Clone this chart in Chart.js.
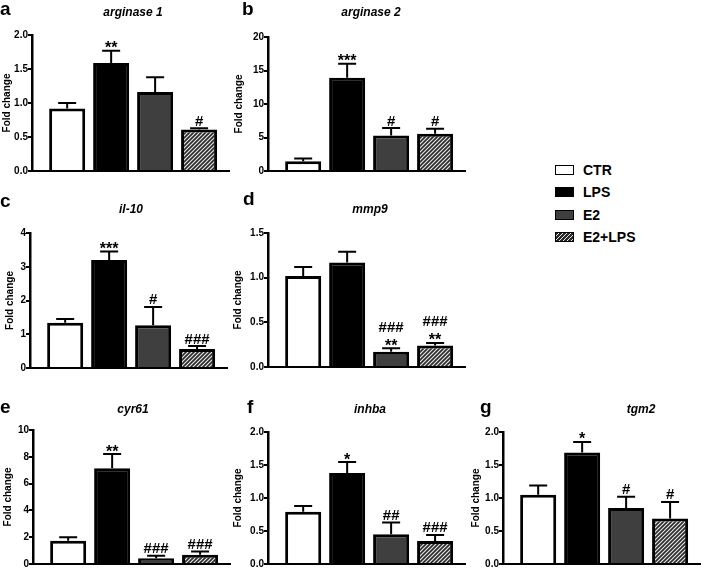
<!DOCTYPE html>
<html><head><meta charset="utf-8">
<script src="https://cdn.jsdelivr.net/npm/chart.js@4.4.1/dist/chart.umd.min.js"></script>
<style>
html,body{margin:0;padding:0;background:#fff;}
body{width:708px;height:570px;position:relative;overflow:hidden;}
canvas{position:absolute;}
.leg{position:absolute;left:555px;height:22px;display:flex;align-items:center;font:bold 14px "Liberation Sans",Arial,sans-serif;color:#000;white-space:nowrap;}
.sw{width:19px;height:10px;box-sizing:border-box;border:1.5px solid #000;margin-right:9px;}
</style></head><body>
<script>
// ---------- data ----------
const categories = ['CTR', 'LPS', 'E2', 'E2+LPS'];
const panelLetters = ['a', 'b', 'c', 'd', 'e', 'f', 'g'];
const genes = ['arginase 1', 'arginase 2', 'il-10', 'mmp9', 'cyr61', 'inhba', 'tgm2'];
const yAxisTitle = 'Fold change';

const arginase1Mean = [0.92, 1.59, 1.16, 0.61];
const arginase1Sem  = [0.08, 0.18, 0.22, 0.02];
const arginase1Sig  = ['', '**', '', '#'];
const arginase1Ticks = ['0.0', '0.5', '1.0', '1.5', '2.0'];

const arginase2Mean = [1.45, 13.9, 5.3, 5.55];
const arginase2Sem  = [0.4, 2.1, 1.1, 0.75];
const arginase2Sig  = ['', '***', '#', '#'];
const arginase2Ticks = ['0', '5', '10', '15', '20'];

const il10Mean = [1.34, 3.2, 1.27, 0.56];
const il10Sem  = [0.11, 0.25, 0.54, 0.09];
const il10Sig  = ['', '***', '#', '###'];
const il10Ticks = ['0', '1', '2', '3', '4'];

const mmp9Mean = [1.02, 1.17, 0.17, 0.24];
const mmp9Sem  = [0.10, 0.12, 0.04, 0.03];
const mmp9Sig  = ['', '', '###\n**', '###\n**'];
const mmp9Ticks = ['0.0', '0.5', '1.0', '1.5'];

const cyr61Mean = [1.73, 7.14, 0.42, 0.69];
const cyr61Sem  = [0.27, 1.06, 0.2, 0.25];
const cyr61Sig  = ['', '**', '###', '###'];
const cyr61Ticks = ['0', '2', '4', '6', '8', '10'];

const inhbaMean = [0.79, 1.38, 0.45, 0.35];
const inhbaSem  = [0.09, 0.165, 0.18, 0.09];
const inhbaSig  = ['', '*', '##', '###'];
const inhbaTicks = ['0.0', '0.5', '1.0', '1.5', '2.0'];

const tgm2Mean = [1.05, 1.69, 0.85, 0.69];
const tgm2Sem  = [0.14, 0.16, 0.17, 0.25];
const tgm2Sig  = ['', '*', '#', '#'];
const tgm2Ticks = ['0.0', '0.5', '1.0', '1.5', '2.0'];

const means = [arginase1Mean, arginase2Mean, il10Mean, mmp9Mean, cyr61Mean, inhbaMean, tgm2Mean];
const sems  = [arginase1Sem, arginase2Sem, il10Sem, mmp9Sem, cyr61Sem, inhbaSem, tgm2Sem];
const sigs  = [arginase1Sig, arginase2Sig, il10Sig, mmp9Sig, cyr61Sig, inhbaSig, tgm2Sig];
const tickSets = [arginase1Ticks, arginase2Ticks, il10Ticks, mmp9Ticks, cyr61Ticks, inhbaTicks, tgm2Ticks];

// ---------- layout (positions / styles) ----------
const layout = [
  {axisX: 32,  top: 35,  bottom: 171, cTop: 0,   letter: [0, 15],    title: [133, 16],  yInset: 5},
  {axisX: 268, top: 37,  bottom: 171, cTop: 0,   letter: [242, 15],  title: [371, 16],  yInset: 1.5},
  {axisX: 30,  top: 233, bottom: 368, cTop: 186, letter: [0, 207],   title: [131, 213], yInset: 10},
  {axisX: 268, top: 233, bottom: 367, cTop: 186, letter: [243, 205], title: [370, 213], yInset: 0},
  {axisX: 33,  top: 430, bottom: 564, cTop: 380, letter: [0, 413],   title: [133, 413], yInset: 5},
  {axisX: 268, top: 432, bottom: 564, cTop: 380, letter: [247, 413], title: [370, 413], yInset: 0},
  {axisX: 503, top: 432, bottom: 564, cTop: 380, letter: [480, 413], title: [641, 413], yInset: 3}
];
const Y_AXIS_W = 36, PLOT_W = 197, PAD_R = 10, PAD_B = 8;
const FONT = '"Liberation Sans", Arial, sans-serif';

function makeHatch() {
  const s = 4;
  const c = document.createElement('canvas'); c.width = s; c.height = s;
  const g = c.getContext('2d');
  g.fillStyle = '#2b2b2b'; g.fillRect(0, 0, s, s);
  g.strokeStyle = '#e6e6e6'; g.lineWidth = 1.2;
  g.beginPath();
  g.moveTo(-1, s + 1); g.lineTo(s + 1, -1);
  g.moveTo(-1, 1); g.lineTo(1, -1);
  g.moveTo(s - 1, s + 1); g.lineTo(s + 1, s - 1);
  g.stroke();
  return g.createPattern(c, 'repeat');
}

const annotate = {
  id: 'annotate',
  afterDatasetsDraw(chart, args, o) {
    const ctx = chart.ctx, ys = chart.scales.y;
    const meta = chart.getDatasetMeta(0);
    ctx.save();
    meta.data.forEach((bar, i) => {
      const cap = ys.getPixelForValue(o.mean[i] + o.sem[i]);
      ctx.strokeStyle = '#000'; ctx.lineWidth = 2;
      ctx.beginPath();
      ctx.moveTo(bar.x, bar.y); ctx.lineTo(bar.x, cap);
      ctx.moveTo(bar.x - 9, cap); ctx.lineTo(bar.x + 9, cap);
      ctx.stroke();
      const lines = o.sig[i] ? o.sig[i].split('\n') : [];
      ctx.fillStyle = '#000'; ctx.textAlign = 'center'; ctx.textBaseline = 'alphabetic';
      let y = cap - 2.5;
      for (let k = lines.length - 1; k >= 0; k--) {
        const star = /^\*+$/.test(lines[k]);
        ctx.font = (star ? 'bold 16px ' : 'bold 15px ') + FONT;
        ctx.fillText(lines[k], bar.x, y + (star ? 5 : 0));
        y -= 14;
      }
    });
    ctx.restore();
  },
  afterDraw(chart, args, o) {
    const ctx = chart.ctx;
    ctx.save();
    ctx.fillStyle = '#000'; ctx.textBaseline = 'alphabetic';
    ctx.textAlign = 'left';
    ctx.font = 'bold 19px ' + FONT;
    ctx.fillText(o.letter, o.letterPos[0] - o.cLeft, o.letterPos[1] - o.cTop);
    ctx.textAlign = 'center';
    ctx.font = 'italic bold 12px ' + FONT;
    ctx.fillText(o.title, o.titlePos[0] - o.cLeft, o.titlePos[1] - o.cTop);
    ctx.restore();
  }
};

const hatch = makeHatch();
const fills = ['#ffffff', '#000000', '#3f3f3f', hatch];

layout.forEach((L, p) => {
  const cv = document.createElement('canvas');
  const cLeft = L.axisX - Y_AXIS_W;
  const w = Y_AXIS_W + PLOT_W + PAD_R;
  const h = L.bottom - L.cTop + PAD_B;
  cv.width = w; cv.height = h;
  cv.style.left = cLeft + 'px'; cv.style.top = L.cTop + 'px';
  cv.style.width = w + 'px'; cv.style.height = h + 'px';
  document.body.appendChild(cv);
  const tickLabels = tickSets[p];
  const tickVals = tickLabels.map(Number);
  new Chart(cv, {
    type: 'bar',
    data: {
      datasets: [{
        data: categories.map((c, i) => ({x: i + 1, y: means[p][i]})),
        backgroundColor: fills,
        borderColor: '#000',
        borderWidth: 3,
        borderSkipped: 'start',
        barPercentage: 0.82,
        categoryPercentage: 1
      }]
    },
    options: {
      responsive: false, animation: false, devicePixelRatio: 1,
      layout: {padding: {top: L.top - L.cTop, bottom: PAD_B, left: 0, right: PAD_R}},
      plugins: {
        legend: {display: false}, tooltip: {enabled: false},
        annotate: {
          mean: means[p], sem: sems[p], sig: sigs[p],
          letter: panelLetters[p], letterPos: L.letter, title: genes[p], titlePos: L.title,
          cLeft: cLeft, cTop: L.cTop
        }
      },
      scales: {
        x: {
          type: 'linear', min: 0.2, max: 4.68, offset: false,
          afterBuildTicks(s) { s.ticks = categories.map((c, i) => ({value: i + 1})); },
          ticks: {display: false},
          grid: {display: false, offset: false},
          border: {display: true, color: '#000', width: 2},
          afterFit(s) { s.height = 0; }
        },
        y: {
          min: 0, max: tickVals[tickVals.length - 1],
          afterBuildTicks(s) { s.ticks = tickVals.map(v => ({value: v})); },
          ticks: {
            color: '#000', padding: 0,
            font: {family: FONT, size: 10, weight: 'bold'},
            callback: (v) => tickLabels[tickVals.indexOf(v)]
          },
          grid: {display: true, drawOnChartArea: false, drawTicks: true, tickLength: 4, color: '#000', lineWidth: 2},
          border: {display: true, color: '#000', width: 2.5},
          title: {display: true, text: yAxisTitle, color: '#000', font: {family: FONT, size: 10, weight: 'bold'}, padding: {top: L.yInset, bottom: 0}},
          afterFit(s) { s.width = Y_AXIS_W; }
        }
      }
    },
    plugins: [annotate]
  });
});

// legend
const swatchCss = [
  'background:#fff;',
  'background:#000;',
  'background:#3f3f3f;',
  'background:repeating-linear-gradient(135deg,#2b2b2b 0 1.6px,#e6e6e6 1.6px 2.8px);'
];
categories.forEach((c, i) => {
  const d = document.createElement('div');
  d.className = 'leg';
  d.style.top = (159 + i * 22.4) + 'px';
  const sw = document.createElement('span');
  sw.className = 'sw'; sw.style.cssText = swatchCss[i];
  d.appendChild(sw);
  d.appendChild(document.createTextNode(c));
  document.body.appendChild(d);
});
</script>
</body></html>
